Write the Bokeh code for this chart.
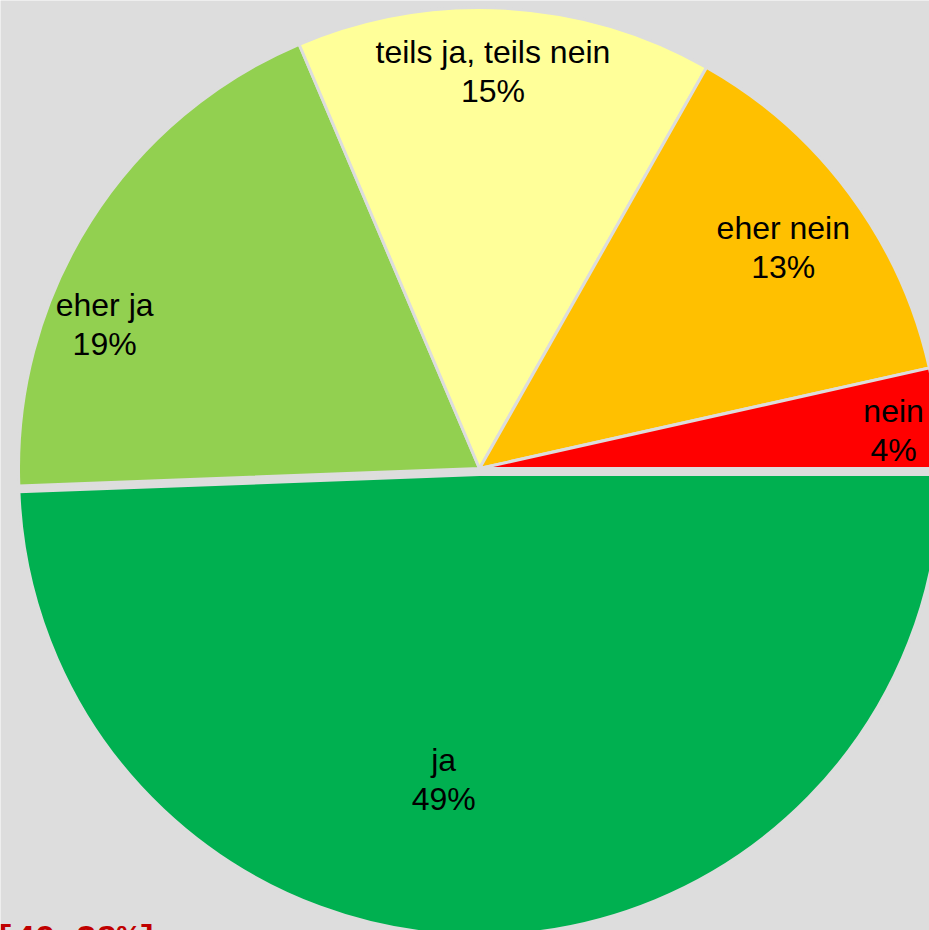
import math
from bokeh.plotting import figure
from bokeh.models import Range1d, ColumnDataSource
from bokeh.core.properties import value
from bokeh.embed import file_html
from bokeh.resources import INLINE

# ---- data (clockwise from 3 o'clock) ----
categories = ["ja", "eher ja", "teils ja, teils nein", "eher nein", "nein"]
shares = [49.4, 19.2, 14.6, 13.3, 3.5]
pct_labels = ["49%", "19%", "15%", "13%", "4%"]
colors = ["#00B050", "#92D050", "#FFFF99", "#FFC000", "#FF0000"]
footnote = "[49.38%]"

# ---- styling / layout ----
W, H = 929, 930
BG = "#DDDDDD"
cx, cy = 479, H - 468        # pie centre in data units (1 unit = 1 px, y up)
R = 461
explode = [6, 0, 0, 0, 0]
label_r = [0.666, 0.871, 0.862, 0.815, 0.902]
label_shift_deg = [-7.8, 11.4, 1.3, -0.5, -1.1]

total = sum(shares)
xs, ys, starts, ends, lx, ly, txt = [], [], [], [], [], [], []
cum = 0.0
for i, s in enumerate(shares):
    f0 = cum / total
    f1 = (cum + s) / total
    cum += s
    a0 = -f1 * 2 * math.pi
    a1 = -f0 * 2 * math.pi
    mid = (a0 + a1) / 2
    ox = cx + explode[i] * math.cos(mid)
    oy = cy + explode[i] * math.sin(mid)
    xs.append(ox); ys.append(oy); starts.append(a0); ends.append(a1)
    la = mid + math.radians(label_shift_deg[i])
    lx.append(ox + label_r[i] * R * math.cos(la))
    ly.append(oy + label_r[i] * R * math.sin(la))
    txt.append(categories[i] + "\n" + pct_labels[i])

src = ColumnDataSource(dict(x=xs, y=ys, start=starts, end=ends, color=colors,
                            lx=lx, ly=ly, txt=txt))

p = figure(width=W, height=H, output_backend="svg", toolbar_location=None,
           x_range=Range1d(0, W), y_range=Range1d(0, H), min_border=0)
p.axis.visible = False
p.grid.visible = False
p.outline_line_color = None
p.background_fill_color = BG
p.border_fill_color = BG

p.wedge(x="x", y="y", radius=R, start_angle="start", end_angle="end",
        direction="anticlock", fill_color="color", line_color=BG, line_width=3,
        source=src)

p.text(x="lx", y="ly", text="txt", source=src, text_align="center",
       text_baseline="middle", text_font=value("Liberation Sans"),
       text_font_size="32px", text_color="black", text_line_height=1.08)

p.text(x=[-6], y=[H - 919], text=[footnote], text_align="left",
       text_baseline="top", text_font=value("Liberation Mono"),
       text_font_style="bold", text_font_size="34px", text_color="#C00000")

open("out.html", "w").write(file_html(p, INLINE))
